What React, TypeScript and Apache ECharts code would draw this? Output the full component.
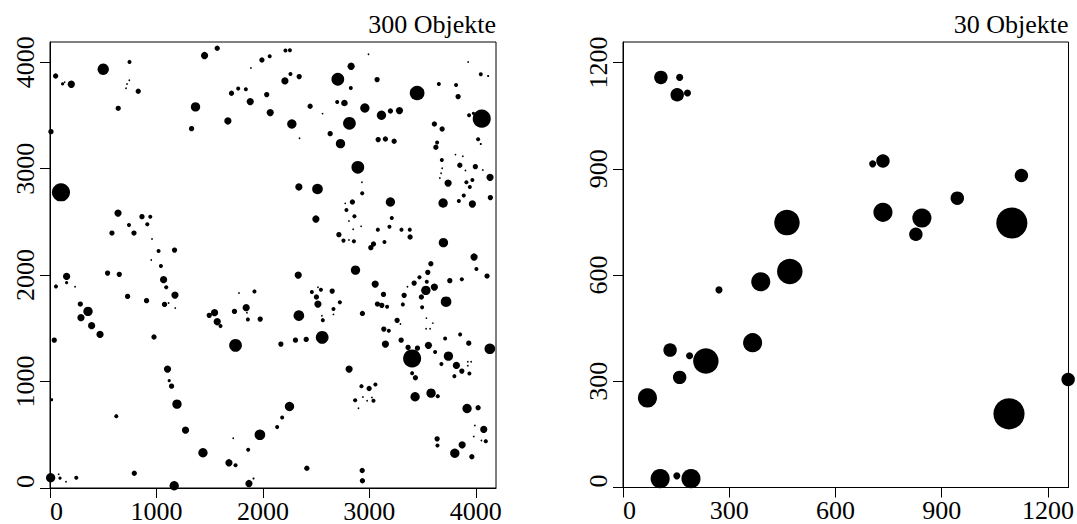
import React, { useEffect, useRef } from "react";
import * as echarts from "echarts";

const leftTitle = "300 Objekte";
const rightTitle = "30 Objekte";
const leftTicks = [0, 1000, 2000, 3000, 4000];
const rightTicks = [0, 300, 600, 900, 1200];
const leftExtent = 4190;
const rightExtent = 1258;

// [x, y, object radius] in data units
const leftPoints: number[][] = [
  [53, 3871, 25], [118, 3796, 15], [137, 3812, 8], [200, 3793, 34], [500, 3934, 53],
  [747, 4003, 19], [745, 3831, 8], [723, 3796, 8], [714, 3755, 8], [829, 3727, 25],
  [641, 3567, 25], [9, 3348, 25], [103, 2778, 85], [1452, 4063, 34], [1571, 4131, 25],
  [1991, 4021, 25], [2064, 4056, 19], [1887, 3946, 8], [1705, 3708, 25], [1768, 3752, 19],
  [1840, 3746, 19], [1881, 3630, 34], [2036, 3696, 25], [2069, 3527, 34], [1367, 3580, 44],
  [1671, 3448, 34], [1330, 3376, 25],
  [2212, 4110, 19], [2254, 4113, 19], [2992, 4075, 8], [2829, 3962, 34], [2259, 3890, 19],
  [2207, 3824, 34], [2341, 3865, 25], [2704, 3840, 60], [2826, 3758, 19], [3073, 3837, 25],
  [3449, 3711, 69], [3928, 4003, 8], [4047, 3887, 19], [4116, 3871, 10], [3653, 3796, 19],
  [3815, 3786, 19], [3834, 3677, 25], [2444, 3586, 25], [2560, 3517, 8], [2698, 3627, 19],
  [2766, 3617, 31], [2958, 3570, 44], [3114, 3502, 44], [3198, 3542, 25], [3283, 3546, 34],
  [2272, 3420, 44], [2813, 3426, 60], [2344, 3285, 8], [2632, 3329, 25], [2729, 3235, 44],
  [3083, 3273, 25], [3151, 3279, 25], [3233, 3257, 25], [3611, 3420, 25], [3684, 3373, 25],
  [3937, 3502, 19], [4056, 3470, 85], [3978, 3520, 15], [4022, 3276, 19], [4047, 3232, 10],
  [3637, 3245, 19], [3625, 3201, 25], [2892, 3013, 60], [3681, 3081, 19], [3809, 3132, 8],
  [3878, 3116, 8], [3850, 3032, 25], [3996, 3019, 25], [3903, 2982, 8], [4066, 2987, 8],
  [3684, 3003, 8], [3674, 2956, 8], [3662, 2912, 8], [4134, 2919, 34], [3740, 2865, 34],
  [3912, 2872, 19], [3968, 2893, 19], [3944, 2828, 19], [2338, 2828, 34], [2513, 2809, 50],
  [2930, 2872, 8],
  [639, 2583, 34], [864, 2549, 25], [942, 2549, 19], [742, 2470, 19], [914, 2477, 19],
  [582, 2395, 25], [789, 2395, 25], [958, 2339, 8], [1020, 2226, 19], [1170, 2235, 25],
  [951, 2141, 8], [1042, 2085, 19], [156, 1988, 34], [156, 1929, 15], [56, 1894, 19],
  [235, 1891, 8], [541, 2019, 25], [651, 2007, 25], [1067, 1957, 34], [1092, 1885, 19],
  [729, 1800, 25], [907, 1760, 25], [1174, 1812, 34], [1076, 1725, 25], [1114, 1737, 8],
  [1177, 1690, 8], [285, 1728, 25], [357, 1659, 44], [291, 1600, 34], [391, 1525, 34],
  [470, 1443, 34], [40, 1389, 25], [977, 1418, 25], [1496, 1622, 25], [1546, 1647, 34],
  [1571, 1562, 34], [1602, 1521, 19], [1733, 1659, 25], [1775, 1831, 8], [1921, 1847, 19],
  [1843, 1694, 34], [1850, 1647, 8], [1859, 1584, 19], [1975, 1587, 25], [1743, 1340, 60],
  [2933, 2768, 19], [2841, 2687, 25], [2773, 2674, 8], [2785, 2611, 19], [2860, 2552, 19],
  [2808, 2508, 8], [2848, 2430, 8], [2923, 2458, 8], [2714, 2380, 25], [2757, 2324, 19],
  [2808, 2329, 8], [2855, 2317, 19], [2498, 2527, 34], [3198, 2687, 44], [3211, 2536, 19],
  [3189, 2455, 19], [3080, 2427, 19], [3302, 2427, 19], [3380, 2427, 19], [3383, 2358, 25],
  [3142, 2311, 19], [3039, 2292, 25], [3014, 2258, 25], [3693, 2677, 44], [3841, 2696, 19],
  [3887, 2747, 19], [3968, 2668, 34], [4137, 2728, 25], [3696, 2305, 44], [3984, 2170, 34],
  [4006, 2057, 19], [4106, 1991, 25], [2870, 2047, 44], [2332, 2000, 34], [3578, 2107, 25],
  [3549, 2026, 25], [3471, 1979, 19], [3421, 1925, 25], [3358, 1891, 8], [3540, 1938, 19],
  [3611, 1888, 34], [3531, 1857, 44], [3489, 1794, 25], [3721, 1750, 50], [3756, 1948, 25],
  [3869, 1960, 19], [3055, 1916, 34], [3133, 1819, 25], [3327, 1810, 25], [3315, 1725, 19],
  [3496, 1697, 19], [2517, 1885, 8], [2545, 1863, 19], [2460, 1841, 19], [2651, 1850, 25],
  [2503, 1794, 25], [2517, 1728, 34], [2723, 1744, 19], [2663, 1681, 19], [2663, 1631, 8],
  [3076, 1728, 25], [3117, 1716, 25], [3167, 1703, 19], [2935, 1640, 25], [2338, 1619, 50],
  [2554, 1619, 8], [2563, 1577, 19], [3261, 1575, 25], [3292, 1540, 8], [3536, 1596, 8],
  [3596, 1549, 8], [3533, 1496, 8], [3571, 1496, 8], [3136, 1493, 25], [3183, 1478, 19],
  [2557, 1415, 60], [2306, 1389, 25], [2407, 1396, 25], [3299, 1389, 25], [3712, 1405, 19],
  [3853, 1443, 19],
  [1104, 1117, 34], [1120, 1008, 15], [1142, 957, 25], [1193, 788, 44], [15, 829, 15],
  [623, 675, 19], [1273, 543, 34], [1437, 331, 44], [1721, 468, 8], [1862, 359, 19],
  [1972, 500, 50], [1681, 237, 34], [1743, 214, 19], [1869, 42, 34], [1912, 89, 10],
  [792, 139, 25], [1167, 21, 44], [6, 96, 44], [81, 130, 8], [94, 92, 15],
  [150, 58, 8], [247, 96, 19],
  [2169, 1352, 25], [3151, 1352, 34], [3364, 1321, 25], [3452, 1314, 25], [3402, 1217, 85],
  [3555, 1340, 34], [3618, 1277, 19], [3743, 1239, 44], [3934, 1361, 25], [4132, 1308, 50],
  [3677, 1164, 19], [3818, 1152, 34], [3869, 1098, 25], [3799, 1051, 19], [3940, 1076, 19],
  [3925, 1186, 8], [3956, 1186, 8], [3925, 1149, 8], [3402, 1079, 19], [3433, 1036, 25],
  [2810, 1117, 34], [2926, 957, 19], [2998, 935, 25], [3057, 973, 19], [2867, 825, 19],
  [2939, 854, 8], [2979, 820, 8], [3024, 851, 8], [3039, 820, 19], [2898, 750, 8],
  [3430, 857, 44], [3580, 891, 44], [3643, 863, 19], [3918, 747, 44], [4022, 754, 25],
  [2250, 766, 44], [2181, 663, 19], [2134, 572, 19], [3991, 588, 8], [4075, 550, 34],
  [3981, 484, 8], [4053, 447, 8], [4094, 440, 19], [3637, 462, 25], [3640, 400, 19],
  [3872, 406, 34], [3803, 327, 44], [3963, 293, 25], [2413, 186, 25], [2933, 165, 25],
  [2935, 68, 25],
];

const rightPoints: number[][] = [
  [107, 1158, 19], [160, 1158, 10], [153, 1109, 19], [182, 1114, 10], [463, 748, 36],
  [471, 610, 36], [389, 581, 27], [271, 558, 10], [366, 409, 27], [133, 388, 19],
  [188, 372, 10], [234, 357, 36], [160, 311, 19], [69, 253, 27], [105, 25, 27],
  [152, 33, 10], [192, 25, 27], [734, 922, 19], [705, 914, 10], [1125, 881, 19],
  [944, 817, 19], [734, 777, 27], [844, 761, 27], [827, 715, 19], [1098, 747, 44],
  [1090, 208, 44], [1257, 305, 19],
];

const FONT = "'Liberation Serif', 'Times New Roman', 'DejaVu Serif', serif";
const FS = 26;

const leftGrid = { left: 50, top: 42, width: 446, height: 446.5 };
const rightGrid = { left: 623, top: 42, width: 445.5, height: 445.5 };

function makeAxis(dim: "x" | "y", gridIndex: number, max: number, ticks: number[]) {
  return {
    type: "value",
    gridIndex,
    min: 0,
    max,
    interval: ticks[1] - ticks[0],
    axisLine: { show: true, onZero: false, lineStyle: { color: "#000", width: 1 } },
    axisTick: {
      show: true,
      inside: false,
      length: 10,
      customValues: ticks,
      lineStyle: { color: "#000", width: 1 },
    },
    axisLabel: {
      show: true,
      customValues: ticks,
      formatter: (v: number) => String(v),
      margin: dim === "x" ? 10 : 12,
      rotate: dim === "y" ? 90 : 0,
      color: "#000",
      fontFamily: FONT,
      fontSize: FS,
      alignMinLabel: "left",
    },
    splitLine: { show: false },
  };
}

export default function App() {
  const ref = useRef<HTMLDivElement>(null);
  useEffect(() => {
    if (!ref.current) return;
    const chart = echarts.init(ref.current, undefined, { renderer: "svg" });
    const leftScale = leftGrid.width / leftExtent;
    const rightScale = rightGrid.width / rightExtent;
    chart.setOption({
      animation: false,
      backgroundColor: "#fff",
      title: [
        {
          text: leftTitle,
          right: 1077 - (leftGrid.left + leftGrid.width),
          top: 11,
          padding: 0,
          textStyle: { fontFamily: FONT, fontSize: FS, fontWeight: "normal", color: "#000" },
        },
        {
          text: rightTitle,
          right: 1077 - (rightGrid.left + rightGrid.width),
          top: 11,
          padding: 0,
          textStyle: { fontFamily: FONT, fontSize: FS, fontWeight: "normal", color: "#000" },
        },
      ],
      grid: [
        { ...leftGrid, show: true, borderColor: "#000", borderWidth: 1, backgroundColor: "transparent" },
        { ...rightGrid, show: true, borderColor: "#000", borderWidth: 1, backgroundColor: "transparent" },
      ],
      xAxis: [makeAxis("x", 0, leftExtent, leftTicks), makeAxis("x", 1, rightExtent, rightTicks)],
      yAxis: [makeAxis("y", 0, leftExtent, leftTicks), makeAxis("y", 1, rightExtent, rightTicks)],
      series: [
        {
          type: "scatter",
          xAxisIndex: 0,
          yAxisIndex: 0,
          data: leftPoints,
          symbol: "circle",
          symbolSize: (v: number[]) => 2 * v[2] * leftScale,
          itemStyle: { color: "#000", opacity: 1 },
          clip: false,
          silent: true,
        },
        {
          type: "scatter",
          xAxisIndex: 1,
          yAxisIndex: 1,
          data: rightPoints,
          symbol: "circle",
          symbolSize: (v: number[]) => 2 * v[2] * rightScale,
          itemStyle: { color: "#000", opacity: 1 },
          clip: false,
          silent: true,
        },
      ],
    });
    return () => chart.dispose();
  }, []);
  return (
    <div
      ref={ref}
      style={{ position: "absolute", left: 0, top: 0, width: 1077, height: 524, background: "#fff" }}
    />
  );
}
